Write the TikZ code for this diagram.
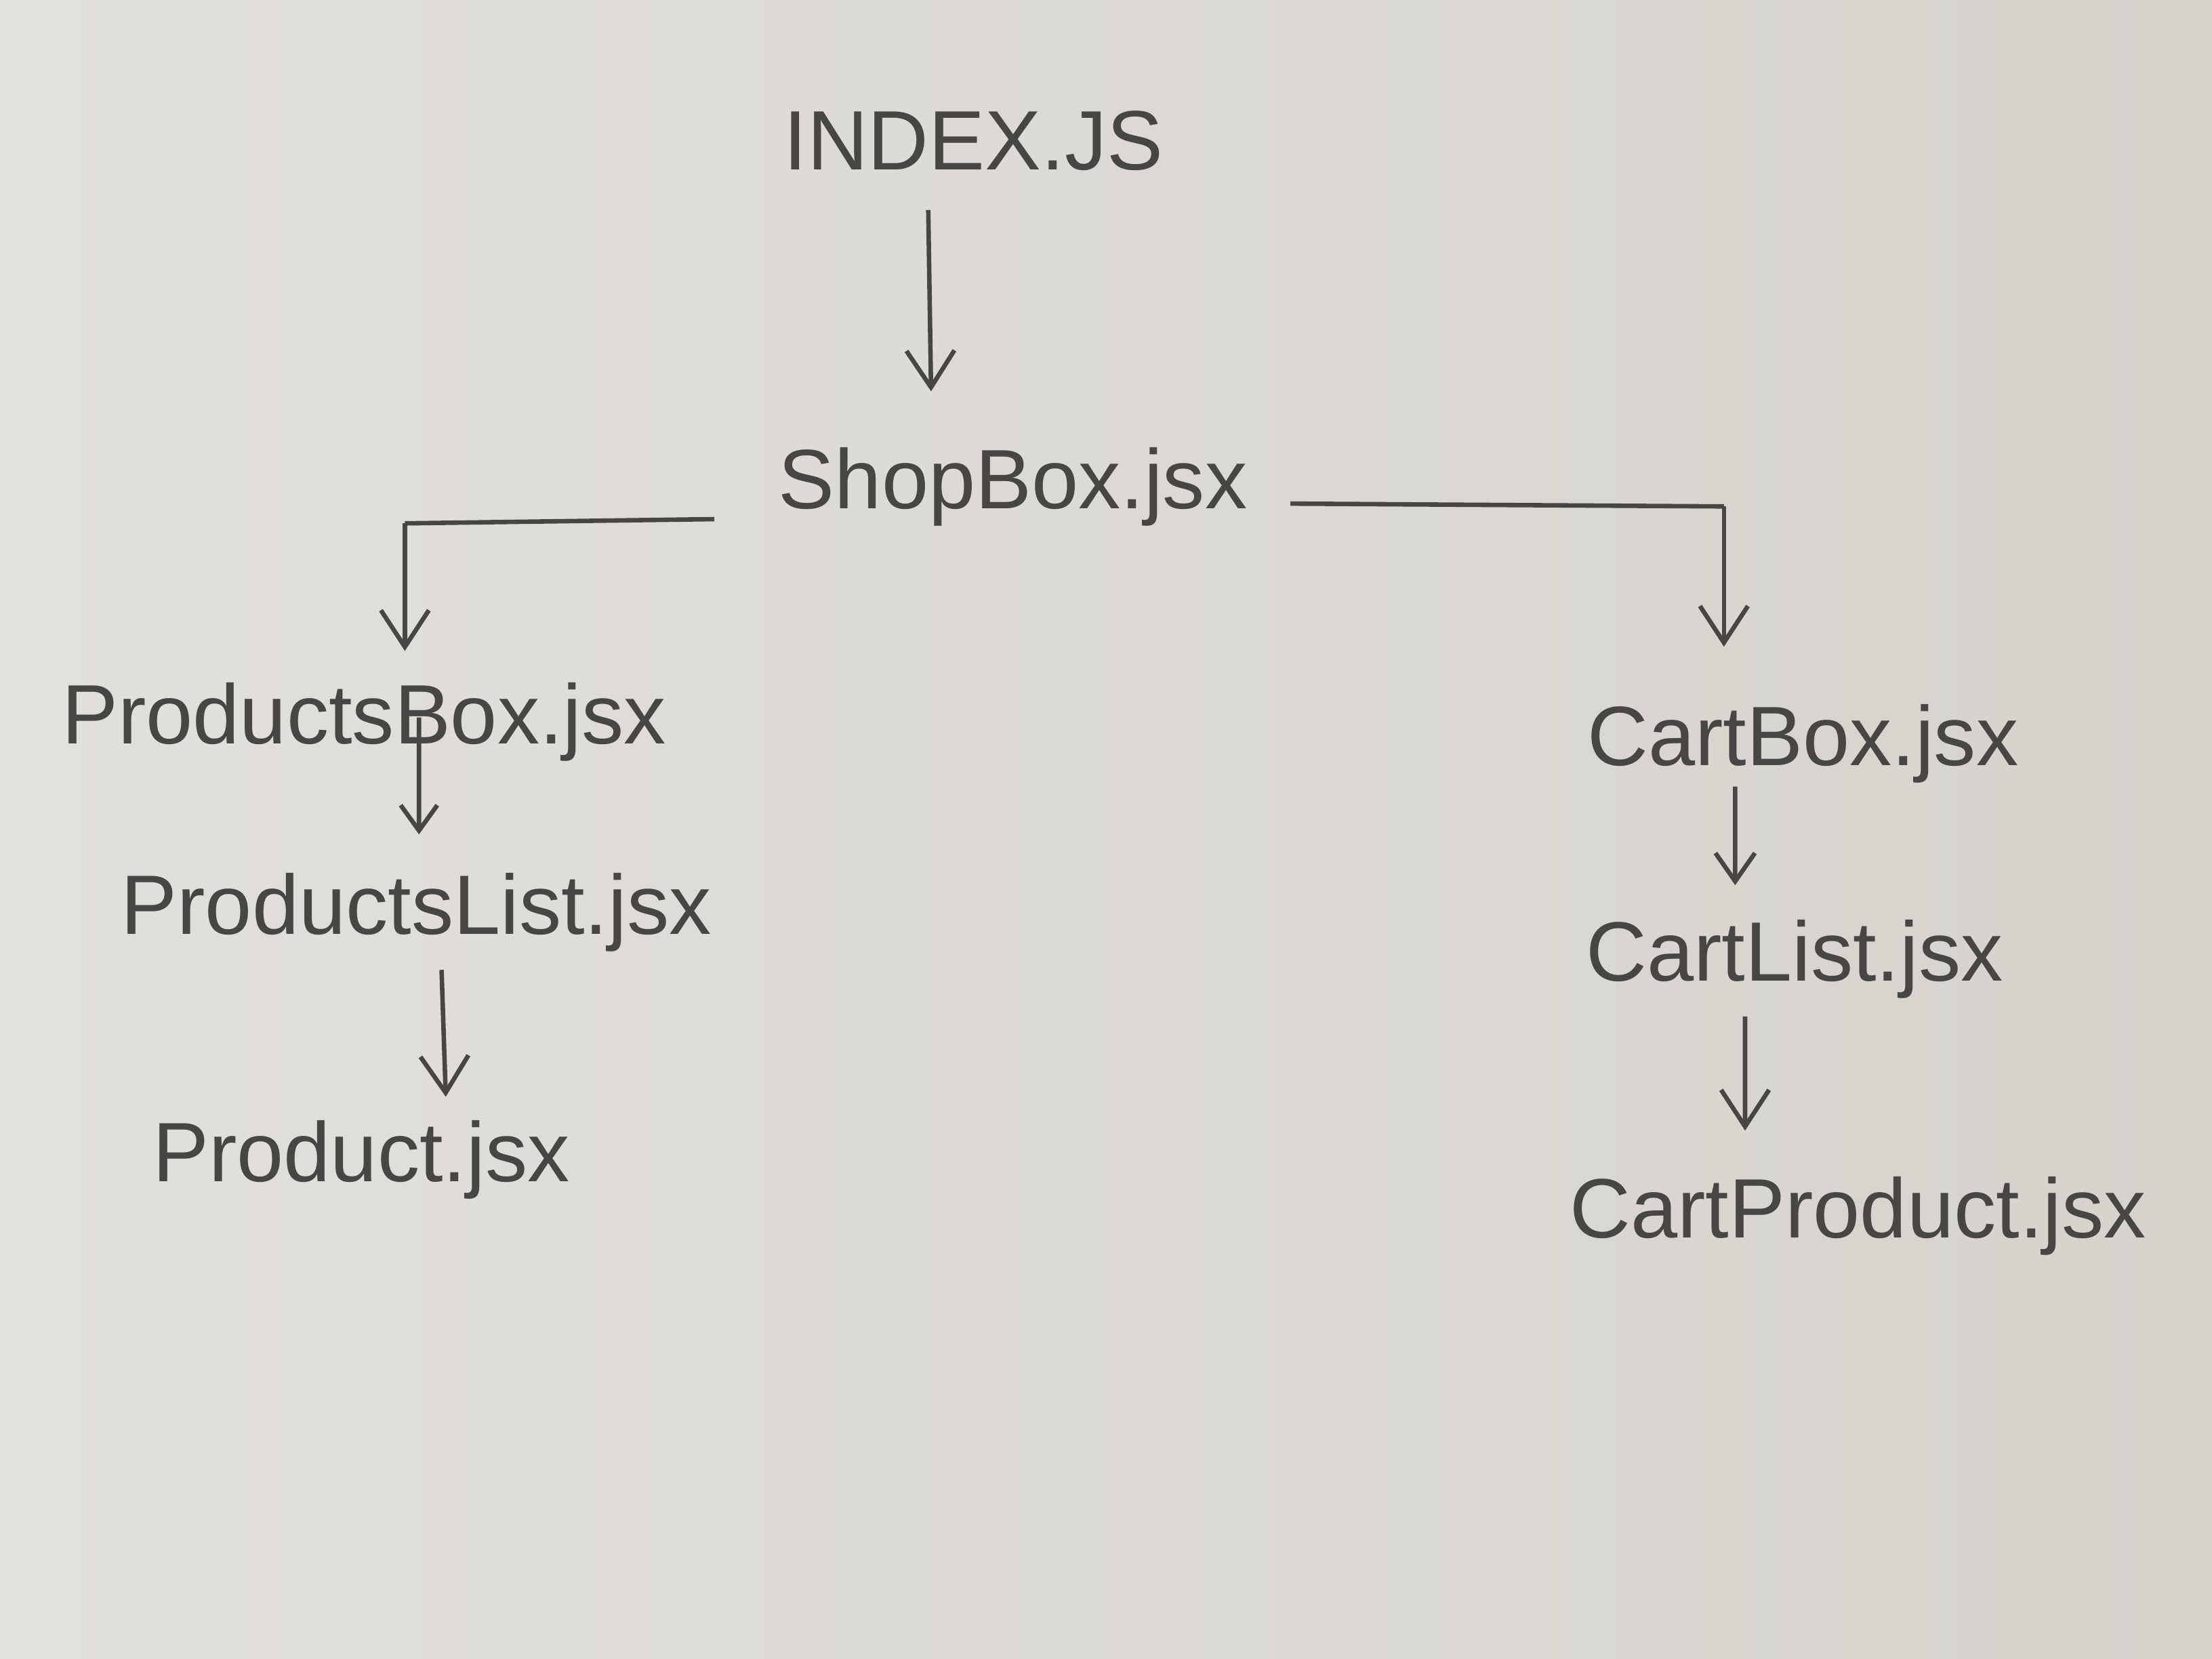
\documentclass[tikz,border=0pt]{standalone}
\usepackage{fontspec}
\setmainfont{Liberation Sans}
\usepackage{tikz}
\usetikzlibrary{positioning,calc,arrows.meta}
\usepackage{xcolor}
\definecolor{paperL}{RGB}{226,224,220}
\definecolor{paperR}{RGB}{214,211,205}
\definecolor{pencil}{RGB}{72,70,68}

\tikzset{
  file/.style={inner sep=0pt, text=pencil, font=\fontsize{17}{20}\selectfont},
  arr/.style={draw=pencil, line width=0.9pt, -{Straight Barb[length=2.6mm,width=3.4mm]}},
  link/.style={draw=pencil, line width=0.9pt}
}

\begin{document}
\begin{tikzpicture}
\shade[left color=paperL, right color=paperR] (0,0) rectangle (15.68,-11.76);
\useasboundingbox (0,0) rectangle (15.68,-11.76);
% files
\node[file] (index) at (6.90,-1.00) {INDEX.JS};
\node[file] (shop) at (7.18,-3.45) {ShopBox.jsx};
\node[file] (pbox) at (2.58,-5.12) {ProductsBox.jsx};
\node[file] (plist) at (2.95,-6.47) {ProductsList.jsx};
\node[file] (prod) at (2.56,-8.22) {Product.jsx};
\node[file] (cbox) at (12.78,-5.27) {CartBox.jsx};
\node[file] (clist) at (12.72,-6.80) {CartList.jsx};
\node[file] (cprod) at (13.17,-8.62) {CartProduct.jsx};
% elbows
\coordinate (lcorner) at (2.87,-3.71);
\coordinate (rcorner) at (12.22,-3.59);
% arrows
\draw[arr] ([xshift=-3.2mm,yshift=-2.7mm]index.south) -- ([xshift=-5.8mm,yshift=3.9mm]shop.north);
\draw[link] ([xshift=-4.5mm,yshift=-2.3mm]shop.west) -- (lcorner);
\draw[arr] (lcorner) -- ([yshift=2.2mm]lcorner |- pbox.north);
\draw[link] ([xshift=3mm,yshift=-1.2mm]shop.east) -- (rcorner);
\draw[arr] (rcorner) -- ([yshift=4mm]rcorner |- cbox.north);
\draw[arr,-{Straight Barb[length=1.8mm,width=2.6mm]}] ([xshift=3.9mm,yshift=3.2mm]pbox.south) -- ([xshift=0.2mm,yshift=2.7mm]plist.north);
\draw[arr] ([xshift=1.8mm,yshift=-1.2mm]plist.south) -- ([xshift=6mm,yshift=1.6mm]prod.north);
\draw[arr,-{Straight Barb[length=2mm,width=2.8mm]}] ([xshift=-4.8mm,yshift=-0.2mm]cbox.south) -- ([xshift=-4.2mm,yshift=2.4mm]clist.north);
\draw[arr] ([xshift=-3.5mm,yshift=-1.2mm]clist.south) -- ([xshift=-8mm,yshift=3.2mm]cprod.north);
\end{tikzpicture}
\end{document}
